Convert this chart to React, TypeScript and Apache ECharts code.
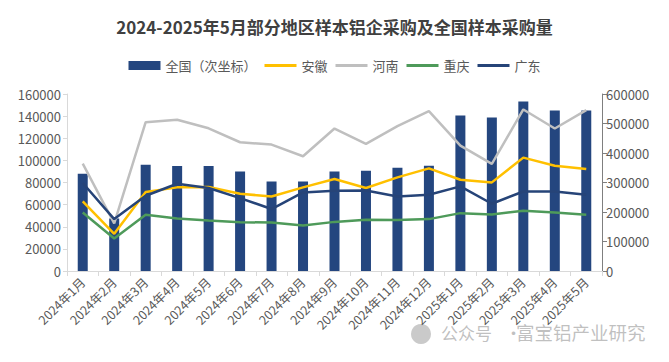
import React, { useEffect, useRef } from "react";
import * as echarts from "echarts";

const categories = [
  "2024年1月", "2024年2月", "2024年3月", "2024年4月", "2024年5月", "2024年6月",
  "2024年7月", "2024年8月", "2024年9月", "2024年10月", "2024年11月", "2024年12月",
  "2025年1月", "2025年2月", "2025年3月", "2025年4月", "2025年5月",
];
const national = [330000, 178000, 360000, 356000, 356000, 337000, 303000, 303000, 337000, 340000, 350000, 357000, 527000, 520000, 575000, 544000, 544000];
const anhui = [62900, 33600, 71400, 75600, 75900, 69800, 67400, 75600, 83200, 75000, 84600, 92800, 82500, 80100, 102500, 95200, 92200];
const henan = [97000, 43000, 134500, 136700, 129000, 116400, 114300, 103700, 128800, 114900, 130900, 144500, 113400, 96800, 146000, 128800, 145400];
const chongqing = [52900, 29300, 50800, 47500, 45600, 44100, 43800, 41100, 44400, 46300, 46000, 46900, 52300, 51100, 54400, 52900, 50800];
const guangdong = [79500, 46900, 68000, 78900, 75000, 65900, 56000, 71000, 72600, 72800, 67400, 68900, 76500, 60800, 71900, 71900, 68900];

const FONT = "'Noto Sans CJK SC', 'Noto Sans', sans-serif";
const LINE_ICON = "path://M0,0 L32,0 L32,3 L0,3 Z";

export default function App() {
  const ref = useRef<HTMLDivElement>(null);
  useEffect(() => {
    if (!ref.current) return;
    const chart = echarts.init(ref.current, undefined, { renderer: "svg" });
    const lineStyle = (c: string) => ({ color: c, width: 2.5 });
    const plain = (v: number) => String(v);
    const wm = "rgba(150,150,150,0.6)";
    chart.setOption({
      animation: false,
      backgroundColor: "#fff",
      title: {
        text: "2024-2025年5月部分地区样本铝企采购及全国样本采购量",
        left: "center",
        top: 13,
        textStyle: { fontFamily: FONT, fontSize: 17, fontWeight: "bold", color: "#404040" },
      },
      legend: {
        top: 54,
        left: "center",
        itemWidth: 32,
        itemHeight: 9,
        itemGap: 8,
        textStyle: { fontFamily: FONT, fontSize: 13, color: "#595959" },
        data: [
          { name: "全国（次坐标）", icon: "rect" },
          { name: "安徽", icon: LINE_ICON, itemStyle: { color: "#ffc000" } },
          { name: "河南", icon: LINE_ICON, itemStyle: { color: "#bfbfbf" } },
          { name: "重庆", icon: LINE_ICON, itemStyle: { color: "#4e9a5a" } },
          { name: "广东", icon: LINE_ICON, itemStyle: { color: "#264478" } },
        ],
      },
      grid: { left: 67, right: 67, top: 94, bottom: 91 },
      xAxis: {
        type: "category",
        data: categories,
        axisLine: { lineStyle: { color: "#d9d9d9" } },
        axisTick: { show: true, alignWithLabel: false, lineStyle: { color: "#d9d9d9" }, length: 5 },
        axisLabel: { rotate: 45, interval: 0, fontFamily: FONT, fontSize: 12.5, color: "#595959", margin: 9 },
      },
      yAxis: [
        {
          type: "value",
          min: 0,
          max: 160000,
          interval: 20000,
          splitLine: { show: false },
          axisLine: { show: true, lineStyle: { color: "#d9d9d9" } },
          axisTick: { show: true, length: 4, lineStyle: { color: "#d9d9d9" } },
          axisLabel: { fontFamily: FONT, fontSize: 13, color: "#595959", margin: 6, formatter: plain },
        },
        {
          type: "value",
          min: 0,
          max: 600000,
          interval: 100000,
          splitLine: { show: false },
          axisLine: { show: true, lineStyle: { color: "#7f7f7f" } },
          axisTick: { show: true, lineStyle: { color: "#7f7f7f" }, length: 5 },
          axisLabel: { fontFamily: FONT, fontSize: 13, color: "#595959", margin: 4, formatter: plain },
        },
      ],
      series: [
        {
          name: "全国（次坐标）",
          type: "bar",
          yAxisIndex: 1,
          data: national,
          barWidth: 10,
          itemStyle: { color: "#24467f" },
        },
        { name: "安徽", type: "line", data: anhui, symbol: "none", lineStyle: lineStyle("#ffc000"), itemStyle: { color: "#ffc000" } },
        { name: "河南", type: "line", data: henan, symbol: "none", lineStyle: lineStyle("#bfbfbf"), itemStyle: { color: "#bfbfbf" } },
        { name: "重庆", type: "line", data: chongqing, symbol: "none", lineStyle: lineStyle("#4e9a5a"), itemStyle: { color: "#4e9a5a" } },
        { name: "广东", type: "line", data: guangdong, symbol: "none", lineStyle: lineStyle("#264478"), itemStyle: { color: "#264478" } },
      ],
      graphic: [
        {
          type: "rect",
          left: 3,
          top: 3,
          shape: { width: 662, height: 356, r: 1 },
          style: { fill: "none", stroke: "#d9d9d9", lineWidth: 1.5 },
          silent: true,
        },
        {
          type: "circle",
          shape: { cx: 421, cy: 334, r: 10 },
          style: { fill: "rgba(150,150,150,0.5)" },
          silent: true,
        },
        {
          type: "text",
          left: 441,
          top: 324,
          style: { text: "公众号", fontFamily: FONT, fontSize: 17, fill: wm },
          silent: true,
        },
        {
          type: "text",
          left: 505,
          top: 324,
          style: { text: "·", fontFamily: FONT, fontSize: 17, fill: wm },
          silent: true,
        },
        {
          type: "text",
          left: 516,
          top: 323,
          style: { text: "富宝铝产业研究", fontFamily: FONT, fontSize: 18.5, fill: wm },
          silent: true,
        },
      ],
    });
    return () => chart.dispose();
  }, []);
  return <div ref={ref} style={{ width: 669, height: 362, margin: -8 }} />;
}
